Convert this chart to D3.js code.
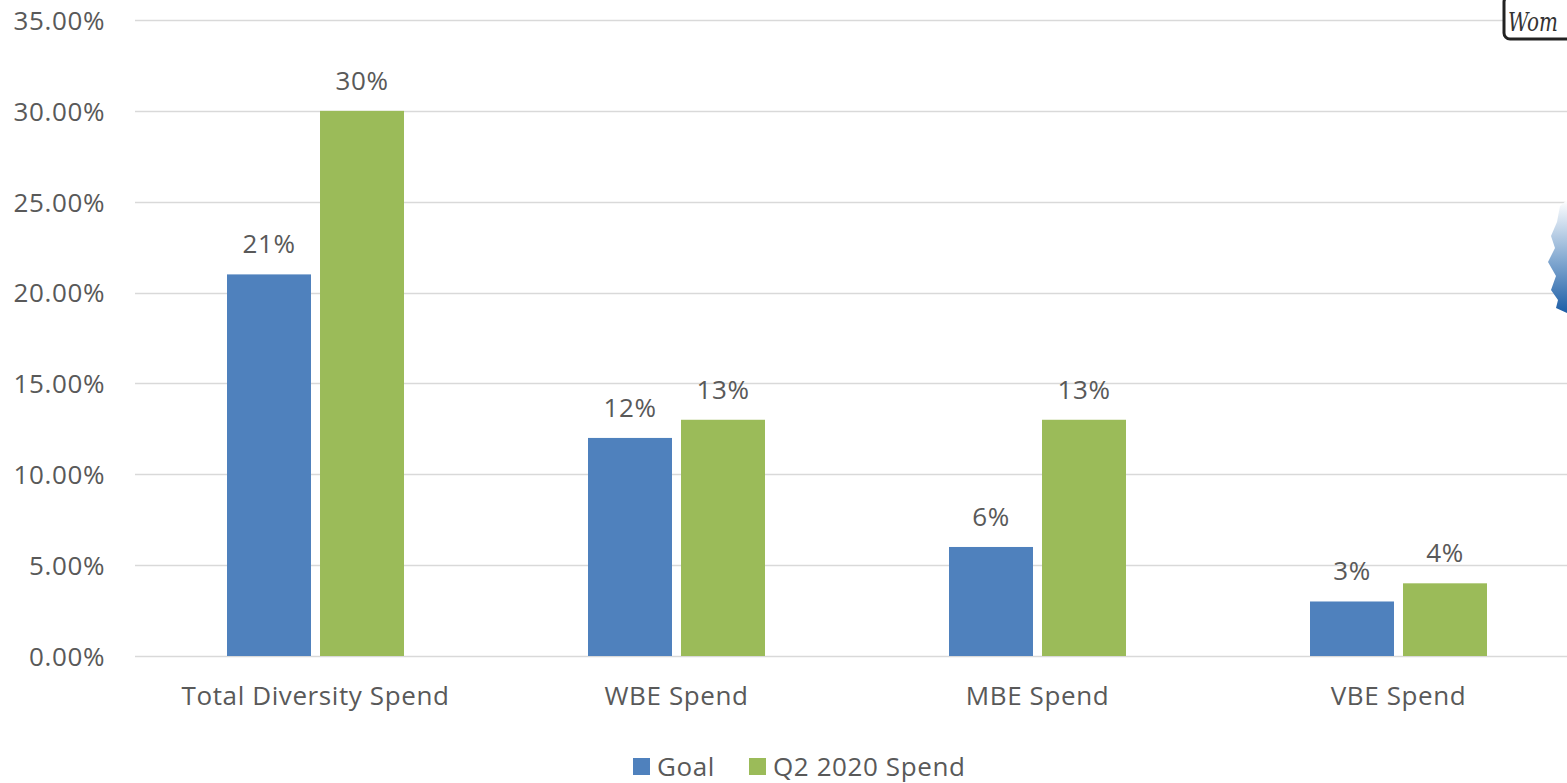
<!DOCTYPE html>
<html>
<head>
<meta charset="utf-8">
<script src="https://cdn.jsdelivr.net/npm/d3@7"></script>
<style>
  body { margin: 0; background: #fff; }
  svg text { font-family: "Open Sans", "Liberation Sans", sans-serif; fill: #595959; letter-spacing: 0.6px; }
</style>
</head>
<body>
<svg id="chart" width="1567" height="783"></svg>
<script>
// chart data
var categories = ['Total Diversity Spend', 'WBE Spend', 'MBE Spend', 'VBE Spend'];
var seriesNames = ['Goal', 'Q2 2020 Spend'];
var goalValues = [0.21, 0.12, 0.06, 0.03];
var spendValues = [0.30, 0.13, 0.13, 0.04];
var yTicks = [0, 0.05, 0.10, 0.15, 0.20, 0.25, 0.30, 0.35];
var colors = ['#4f81bd', '#9bbb59'];

var fontSize = 26;
var svg = d3.select('#chart');

var y = d3.scaleLinear().domain([0, 0.35]).range([656, 20]);
var x0 = d3.scaleBand().domain(categories).range([135, 1579]);
var x1 = d3.scaleBand().domain(seriesNames).range([92, 269]).paddingInner(0.097);
var color = d3.scaleOrdinal().domain(seriesNames).range(colors);

// gridlines
svg.append('g')
  .selectAll('line')
  .data(yTicks)
  .join('line')
  .attr('x1', 135)
  .attr('x2', 1567)
  .attr('y1', function(d) { return Math.round(y(d)) + 0.5; })
  .attr('y2', function(d) { return Math.round(y(d)) + 0.5; })
  .attr('stroke', '#d9d9d9')
  .attr('stroke-width', 1.5);

// y axis labels
var yAxis = d3.axisLeft(y).tickValues(yTicks).tickSize(0).tickPadding(0)
  .tickFormat(function(d) { return (d * 100).toFixed(2) + '%'; });
var yg = svg.append('g').attr('transform', 'translate(105,0)').call(yAxis);
yg.select('.domain').remove();
yg.selectAll('text').attr('font-size', fontSize).attr('fill', '#595959').attr('dy', '0.36em')
  .style('font-family', '"Open Sans", "Liberation Sans", sans-serif');

// logo fragments at the right edge (background picture bleeding in)
var logo = svg.append('g');
logo.append('rect').attr('x', 1504).attr('y', -4).attr('width', 80).attr('height', 43)
  .attr('rx', 6).attr('fill', '#fff').attr('stroke', '#222').attr('stroke-width', 3);
logo.append('text').attr('x', 1508).attr('y', 31).text('Wom')
  .attr('textLength', 50).attr('lengthAdjust', 'spacingAndGlyphs')
  .style('font-family', '"DejaVu Serif", serif').style('font-style', 'italic')
  .style('letter-spacing', '0px')
  .attr('font-size', 26).style('fill', '#333');

var grad = svg.append('defs').append('linearGradient')
  .attr('id', 'blueFade').attr('x1', 0).attr('y1', 0).attr('x2', 0).attr('y2', 1);
grad.append('stop').attr('offset', '0%').attr('stop-color', '#ffffff');
grad.append('stop').attr('offset', '55%').attr('stop-color', '#7fa6cf');
grad.append('stop').attr('offset', '100%').attr('stop-color', '#1d5ea6');
logo.append('path')
  .attr('d', 'M1567,200 L1560,206 L1557,222 L1551,236 L1555,248 L1548,262 L1556,276 L1551,290 L1558,300 L1556,308 L1567,313 Z')
  .attr('fill', 'url(#blueFade)');

// bars
var rows = categories.map(function(c, i) {
  return { cat: c, vals: [{ s: seriesNames[0], v: goalValues[i] }, { s: seriesNames[1], v: spendValues[i] }] };
});

var groups = svg.append('g').selectAll('g')
  .data(rows)
  .join('g')
  .attr('transform', function(d) { return 'translate(' + x0(d.cat) + ',0)'; });

groups.selectAll('rect')
  .data(function(d) { return d.vals; })
  .join('rect')
  .attr('x', function(d) { return x1(d.s); })
  .attr('width', x1.bandwidth())
  .attr('y', function(d) { return y(d.v); })
  .attr('height', function(d) { return y(0) - y(d.v); })
  .attr('fill', function(d) { return color(d.s); });

groups.selectAll('text')
  .data(function(d) { return d.vals; })
  .join('text')
  .attr('x', function(d) { return x1(d.s) + x1.bandwidth() / 2; })
  .attr('y', function(d) { return y(d.v) - 21; })
  .attr('text-anchor', 'middle')
  .attr('font-size', fontSize)
  .text(function(d) { return Math.round(d.v * 100) + '%'; });

// x axis labels
var xAxis = d3.axisBottom(x0).tickSize(0).tickPadding(0);
var xg = svg.append('g').attr('transform', 'translate(0,705)').call(xAxis);
xg.selectAll('text').attr('dy', null);
xg.select('.domain').remove();
xg.selectAll('text').attr('font-size', fontSize).attr('fill', '#595959')
  .style('font-family', '"Open Sans", "Liberation Sans", sans-serif');

// legend
var legendX = [633, 749];
var legend = svg.append('g').selectAll('g')
  .data(seriesNames)
  .join('g')
  .attr('transform', function(d, i) { return 'translate(' + legendX[i] + ',758)'; });
legend.append('rect').attr('width', 17).attr('height', 17).attr('fill', function(d) { return color(d); });
legend.append('text').attr('x', 24).attr('y', 18).attr('font-size', fontSize).text(function(d) { return d; });
</script>
</body>
</html>
